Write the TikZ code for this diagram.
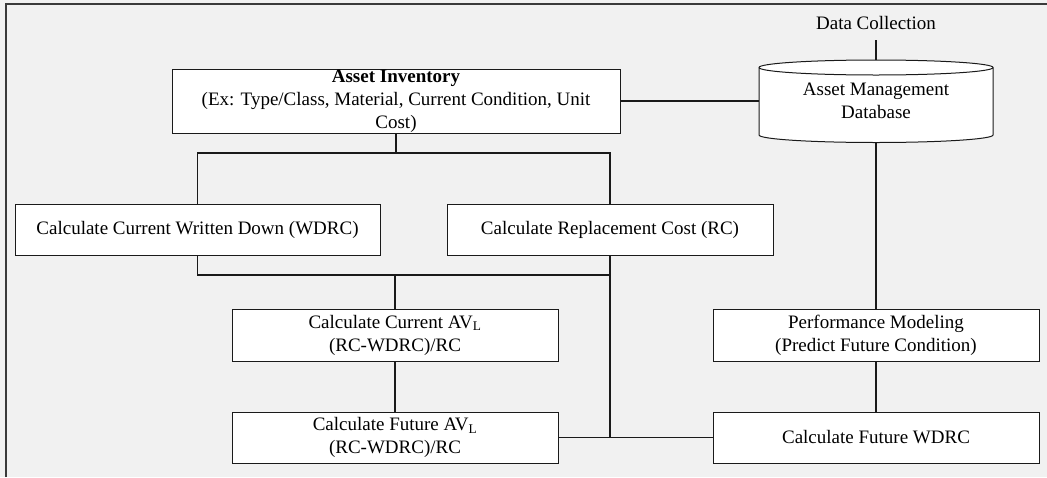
\documentclass[tikz,border=0pt]{standalone}
\usepackage{fontspec}
\setmainfont{Liberation Serif}
\definecolor{bg}{HTML}{F1F1F1}
\definecolor{frm}{HTML}{3A3A3A}
\definecolor{ln}{HTML}{1A1A1A}
\begin{document}
\begin{tikzpicture}[x=1pt,y=-1pt,
  box/.style={draw=ln, line width=1pt, fill=white, rectangle, align=center, inner sep=0pt,
    minimum width=326pt, minimum height=51pt, font=\fontsize{19}{23}\selectfont},
  conn/.style={draw=ln, line width=1.1pt},
  lbl/.style={align=center, font=\fontsize{19}{23}\selectfont}]
\useasboundingbox (0,0) rectangle (1047,477);
\fill[bg] (0,0) rectangle (1047,477);
\draw[frm, line width=1.6pt] (6,477) -- (6,4) -- (1047,4);

% nodes
\node[box, minimum width=448pt, minimum height=64pt] (ai) at (396,101)
  {\textbf{Asset Inventory}\\(Ex: Type/Class, Material, Current Condition, Unit\\Cost)};
\node[box, minimum width=365pt] (wdrc) at (197.5,229.5) {Calculate Current Written Down (WDRC)};
\node[box] (rc) at (610,229.5) {Calculate Replacement Cost (RC)};
\node[box, minimum height=52pt] (cav) at (395,335) {Calculate Current AV\textsubscript{L}\\(RC-WDRC)/RC};
\node[box] (fav) at (395,437.5) {Calculate Future AV\textsubscript{L}\\(RC-WDRC)/RC};
\node[box, minimum height=52pt] (pm) at (876,335) {Performance Modeling\\(Predict Future Condition)};
\node[box] (fw) at (876,437.5) {Calculate Future WDRC};

% database cylinder
\draw[ln, line width=1pt, fill=white] (759,67.5) -- (759,135)
  arc[start angle=180, end angle=360, x radius=117pt, y radius=7.5pt]
  -- (993,67.5)
  arc[start angle=0, end angle=180, x radius=117pt, y radius=7.5pt] -- cycle;
\draw[ln, line width=1pt] (759,67.5)
  arc[start angle=180, end angle=360, x radius=117pt, y radius=7.5pt];
\node[lbl, minimum width=234pt, minimum height=82pt, inner sep=0pt] (db) at (876,101)
  {Asset Management\\Database};
\coordinate (dbtop) at (876,60);

\node[lbl, anchor=south, inner xsep=0pt, inner ysep=10pt] (dc) at (876,40) {Data Collection};

% connectors
\draw[conn] (dc.south) -- (dbtop);
\draw[conn] (ai.east) -- (db.west);
\draw[conn] (db.south) -- (pm.north);
\coordinate (j1) at (396,153);
\draw[conn] (ai.south) -- (j1);
\draw[conn] (wdrc.north) |- (j1) -| (rc.north);
\coordinate (j2) at (395,275);
\draw[conn] (wdrc.south) |- (j2) -| (rc.south);
\draw[conn] (cav.north) -- (j2);
\draw[conn] (rc.south) |- (fw.west);
\draw[conn] (fav.east) -- (fw.west);
\draw[conn] (cav.south) -- (fav.north);
\draw[conn] (pm.south) -- (fw.north);
\end{tikzpicture}
\end{document}
